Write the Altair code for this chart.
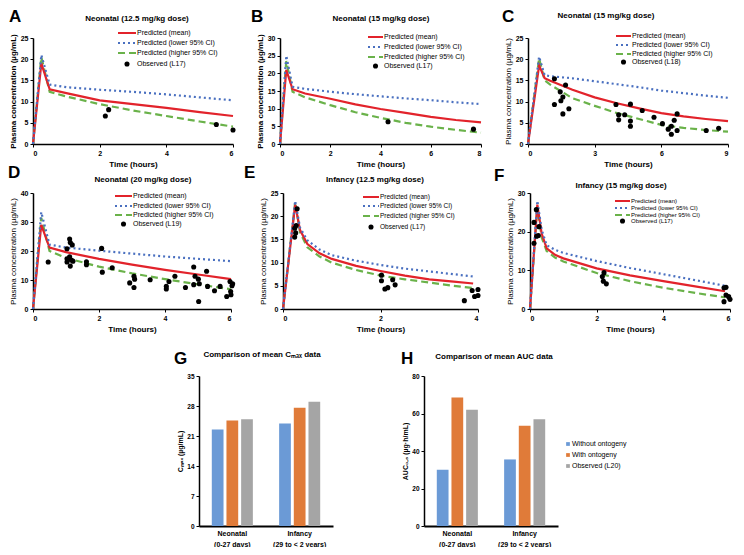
import altair as alt
import pandas as pd

FONT = "Liberation Sans"
RED = "#e2232b"
BLUE = "#4a70c0"
GREEN = "#6ab24a"

LINE_LABELS = ["Predicted (mean)", "Predicted (lower 95% CI)", "Predicted (higher 95% CI)"]

# ---------------- Panel A: Neonatal 12.5 mg/kg ----------------
A_time = [0, 0.25, 0.5, 1, 2, 3, 4, 5, 6]
A_mean = [0, 19.0, 12.9, 12.0, 10.3, 9.4, 8.5, 7.5, 6.6]
A_lower = [0, 21.0, 14.0, 13.4, 12.8, 12.3, 11.7, 11.0, 10.3]
A_higher = [0, 20.5, 12.3, 11.2, 9.4, 7.9, 6.6, 5.3, 4.1]
A_obs_time = [2.17, 2.27, 5.5, 6.0]
A_obs_conc = [6.6, 8.1, 4.6, 3.3]

# ---------------- Panel B: Neonatal 15 mg/kg (L17) ----------------
B_time = [0, 0.25, 0.5, 1, 2, 3, 4, 5, 6, 7, 8]
B_mean = [0, 21.0, 15.5, 14.3, 12.8, 11.2, 9.9, 8.8, 7.7, 6.8, 6.1]
B_lower = [0, 25.0, 16.2, 15.6, 14.8, 14.1, 13.5, 12.9, 12.4, 11.8, 11.3]
B_higher = [0, 23.5, 14.8, 13.2, 11.0, 9.0, 7.4, 6.0, 4.9, 4.0, 3.2]
B_obs_time = [4.3, 7.7]
B_obs_conc = [6.3, 4.2]

# ---------------- Panel C: Neonatal 15 mg/kg (L18) ----------------
C_time = [0, 0.5, 0.75, 1, 2, 3, 4, 5, 6, 7, 8, 9]
C_mean = [0, 18.5, 15.5, 14.9, 12.8, 11.0, 9.6, 8.4, 7.3, 6.5, 5.9, 5.4]
C_lower = [0, 20.6, 16.2, 16.0, 15.5, 14.8, 14.1, 13.4, 12.6, 12.0, 11.4, 10.9]
C_higher = [0, 20.2, 15.0, 14.0, 10.8, 9.0, 7.3, 5.9, 4.5, 3.8, 3.3, 2.9]
C_obs_time = [1.19, 1.45, 1.69, 1.57, 1.48, 1.19, 1.84, 1.57, 3.96, 4.08, 4.08, 4.35, 4.61,
              4.61, 4.61, 5.14, 5.67, 6.05, 6.31, 6.45, 6.58, 6.71, 6.71, 6.45, 8.02, 8.58]
C_obs_conc = [15.4, 12.3, 13.9, 11.1, 10.2, 9.3, 8.3, 7.1, 9.3, 6.9, 5.7, 6.9, 9.4,
              5.4, 4.2, 7.9, 6.3, 4.8, 3.5, 4.2, 5.6, 7.1, 3.2, 2.3, 3.2, 3.7]

# ---------------- Panel D: Neonatal 20 mg/kg (L19) ----------------
D_time = [0, 0.25, 0.5, 1, 2, 3, 4, 5, 6]
D_mean = [0, 29.0, 21.2, 19.6, 17.3, 15.3, 13.5, 11.9, 10.3]
D_lower = [0, 33.4, 22.2, 21.2, 20.1, 19.1, 18.1, 17.3, 16.5]
D_higher = [0, 31.5, 20.0, 17.6, 14.6, 12.3, 10.3, 8.5, 6.8]
D_obs_time = [0.46, 1.03, 1.11, 1.13, 1.19, 1.03, 1.03, 1.11, 1.16, 1.13, 1.21, 1.62, 1.62,
              2.08, 2.10, 2.40, 2.93, 3.06, 3.08, 3.06, 3.55, 4.04, 4.04, 4.12, 4.30, 4.62,
              4.87, 4.87, 4.91, 5.01, 5.04, 5.02, 5.26, 5.29, 5.50, 5.67, 5.87, 5.97, 5.99,
              6.00, 6.03, 6.05]
D_obs_conc = [16.2, 20.8, 24.1, 22.9, 22.1, 17.3, 16.2, 18.0, 16.9, 14.8, 16.5, 16.3, 15.3,
              20.9, 12.7, 14.2, 9.0, 11.3, 10.3, 7.4, 10.1, 7.8, 6.9, 9.5, 11.3, 7.4,
              14.5, 8.4, 11.3, 10.3, 8.7, 2.6, 13.0, 7.8, 6.3, 7.8, 4.3, 9.5, 6.0,
              4.9, 8.0, 8.7]

# ---------------- Panel E: Infancy 12.5 mg/kg ----------------
E_time = [0, 0.25, 0.35, 0.5, 0.75, 1, 1.5, 2, 2.5, 3, 3.5, 3.9]
E_mean = [0, 22.5, 17.0, 14.0, 12.0, 10.8, 9.3, 8.2, 7.2, 6.4, 5.9, 5.5]
E_lower = [0, 23.3, 17.5, 14.8, 12.8, 11.6, 10.4, 9.5, 8.7, 8.1, 7.5, 7.0]
E_higher = [0, 23.0, 16.5, 13.3, 11.3, 10.0, 8.4, 7.2, 6.4, 5.7, 5.0, 4.5]
E_obs_time = [0.29, 0.27, 0.24, 0.26, 0.24, 2.02, 2.02, 2.09, 2.15, 2.25, 2.30,
              3.72, 3.88, 3.93, 4.0, 4.0]
E_obs_conc = [21.6, 18.0, 17.4, 16.4, 15.5, 7.3, 6.1, 4.3, 4.6, 6.3, 5.2,
              1.8, 4.0, 2.7, 4.2, 2.9]

# ---------------- Panel F: Infancy 15 mg/kg ----------------
F_time = [0, 0.22, 0.35, 0.5, 0.75, 1, 2, 3, 4, 5, 5.85]
F_mean = [0, 27.0, 19.5, 15.7, 14.0, 13.1, 10.5, 8.7, 7.2, 5.8, 4.6]
F_lower = [0, 28.0, 20.5, 16.5, 15.3, 14.5, 12.4, 10.6, 9.0, 7.4, 6.0]
F_higher = [0, 26.5, 18.5, 15.0, 13.3, 12.3, 9.3, 7.2, 5.5, 4.1, 3.0]
F_obs_time = [0.12, 0.12, 0.19, 0.20, 0.25, 0.27, 2.22, 2.17, 2.20, 2.29,
              5.82, 5.88, 5.82, 5.88, 5.96, 6.0]
F_obs_conc = [17.0, 22.4, 25.7, 18.8, 19.0, 21.3, 9.4, 8.4, 7.2, 6.5,
              5.5, 5.6, 1.9, 3.6, 3.2, 2.5]

# ---------------- Panels G / H: bar comparisons ----------------
GROUPS = ["Neonatal (0-27 days)", "Infancy (29 to < 2 years)"]
BAR_SERIES = ["Without ontogeny", "With ontogeny", "Observed (L20)"]
BAR_COLORS = ["#6b9ad6", "#e07b39", "#a5a5a5"]
G_without = [22.5, 23.9]
G_with = [24.6, 27.6]
G_observed = [24.9, 29.0]
H_without = [30.0, 35.5]
H_with = [68.5, 53.5]
H_observed = [62.0, 57.0]


def dummy():
    return pd.DataFrame({"k": [0]})


def text_mark(txt, x, y, size, weight="normal", align="left", baseline="alphabetic"):
    return alt.Chart(dummy()).mark_text(
        text=txt, font=FONT, fontSize=size, fontWeight=weight, align=align,
        baseline=baseline, color="black"
    ).encode(x=alt.value(x), y=alt.value(y))


def line_panel(time, mean, lower, higher, obs_t, obs_c, x_ticks, y_ticks, w, h,
               title, tx, ty, letter, lx, ly, leg_x0, leg_x1, leg_tx, rows, leg_fs,
               obs_label, ytw="normal"):
    xs = alt.Scale(domain=[x_ticks[0], x_ticks[-1]], nice=False, zero=True)
    ys = alt.Scale(domain=[y_ticks[0], y_ticks[-1]], nice=False)
    xax = alt.Axis(values=x_ticks, title="Time (hours)", format="d")
    yax = alt.Axis(values=y_ticks, title="Plasma concentration (\u00b5g/mL)", titleFontWeight=ytw, format="d")
    layers = []
    specs = [(higher, GREEN, [7, 4]), (mean, RED, None), (lower, BLUE, [2, 3])]
    for vals, col, dash in specs:
        df = pd.DataFrame({"t": time, "c": vals})
        mk = dict(color=col, strokeWidth=2.2)
        if dash:
            mk["strokeDash"] = dash
        layers.append(alt.Chart(df).mark_line(**mk).encode(
            x=alt.X("t:Q", scale=xs, axis=xax), y=alt.Y("c:Q", scale=ys, axis=yax)))
    obs = pd.DataFrame({"t": obs_t, "c": obs_c})
    layers.append(alt.Chart(obs).mark_circle(size=26, color="black", opacity=1).encode(
        x=alt.X("t:Q", scale=xs, axis=xax), y=alt.Y("c:Q", scale=ys, axis=yax)))
    # in-plot legend
    leg_specs = [(RED, None), (BLUE, [2, 3]), (GREEN, [7, 4])]
    for i, (col, dash) in enumerate(leg_specs):
        mk = dict(color=col, strokeWidth=2)
        if dash:
            mk["strokeDash"] = dash
        layers.append(alt.Chart(dummy()).mark_rule(**mk).encode(
            x=alt.value(leg_x0), x2=alt.value(leg_x1), y=alt.value(rows[i])))
        layers.append(text_mark(LINE_LABELS[i], leg_tx, rows[i], leg_fs, baseline="middle"))
    layers.append(alt.Chart(dummy()).mark_circle(size=26, color="black", opacity=1).encode(
        x=alt.value((leg_x0 + leg_x1) / 2), y=alt.value(rows[3])))
    layers.append(text_mark(obs_label, leg_tx, rows[3], leg_fs, baseline="middle"))
    layers.append(text_mark(title, tx, ty, 8, "bold", "center"))
    layers.append(text_mark(letter, lx, ly, 17, "bold"))
    return alt.layer(*layers).properties(width=w, height=h)


def bar_panel(v_without, v_with, v_obs, y_ticks, w, h, title, tx, ty, letter, lx, ly,
              ytitle, legend_rows=None, legend_x=0):
    df = pd.DataFrame({
        "group": GROUPS * 3,
        "series": [s for s in BAR_SERIES for _ in GROUPS],
        "v": v_without + v_with + v_obs,
    })
    label_expr = "[split(datum.label, ' (')[0], '(' + split(datum.label, ' (')[1]]"
    bars = alt.Chart(df).mark_bar().encode(
        x=alt.X("group:N", sort=GROUPS,
                scale=alt.Scale(paddingInner=0.39, paddingOuter=0.19),
                axis=alt.Axis(title=None, ticks=False, domainWidth=2, labelAngle=0,
                              labelExpr=label_expr, labelLineHeight=11, labelFontSize=7,
                              labelPadding=3)),
        xOffset=alt.XOffset("series:N", sort=BAR_SERIES,
                            scale=alt.Scale(paddingInner=0.2, paddingOuter=0)),
        y=alt.Y("v:Q", scale=alt.Scale(domain=[y_ticks[0], y_ticks[-1]], nice=False),
                axis=alt.Axis(values=y_ticks, title=ytitle, labelFontSize=6.5, titleFontSize=7)),
        color=alt.Color("series:N", scale=alt.Scale(domain=BAR_SERIES, range=BAR_COLORS), legend=None),
    )
    layers = [bars, text_mark(title, tx, ty, 8, "bold", "center"), text_mark(letter, lx, ly, 17, "bold")]
    if legend_rows:
        for i, s in enumerate(BAR_SERIES):
            layers.append(alt.Chart(dummy()).mark_square(size=14, color=BAR_COLORS[i], opacity=1).encode(
                x=alt.value(legend_x), y=alt.value(legend_rows[i])))
            layers.append(text_mark(s, legend_x + 4, legend_rows[i], 7, baseline="middle"))
    return alt.layer(*layers).properties(width=w, height=h)


A = line_panel(A_time, A_mean, A_lower, A_higher, A_obs_time, A_obs_conc,
               [0, 2, 4, 6], [0, 5, 10, 15, 20, 25], 200, 106,
               "Neonatal (12.5 mg/kg dose)", 104, -17, "A", -24, -16,
               85, 103, 104, [-5, 5, 15, 26], 7, "Observed (L17)", "bold")
B = line_panel(B_time, B_mean, B_lower, B_higher, B_obs_time, B_obs_conc,
               [0, 2, 4, 6, 8], [0, 5, 10, 15, 20, 25, 30], 201, 106,
               "Neonatal (15 mg/kg dose)", 101, -17, "B", -29, -16,
               88, 103, 104, [-1, 9, 19, 28], 7, "Observed (L17)", "bold")
C = line_panel(C_time, C_mean, C_lower, C_higher, C_obs_time, C_obs_conc,
               [0, 3, 6, 9], [0, 5, 10, 15, 20, 25], 200, 106,
               "Neonatal (15 mg/kg dose)", 78, -20, "C", -26, -16,
               88, 103, 104, [-2, 7, 16, 24], 7, "Observed (L18)")
D = line_panel(D_time, D_mean, D_lower, D_higher, D_obs_time, D_obs_conc,
               [0, 2, 4, 6], [0, 10, 20, 30, 40], 198, 116,
               "Neonatal (20 mg/kg dose)", 110, -11, "D", -25, -15,
               82, 99, 100, [3, 13, 22, 31], 7, "Observed (L19)")
E = line_panel(E_time, E_mean, E_lower, E_higher, E_obs_time, E_obs_conc,
               [0, 2, 4], [0, 5, 10, 15, 20, 25], 195, 116,
               "Infancy (12.5 mg/kg dose)", 92, -11, "E", -39, -15,
               80, 96, 97, [4, 13, 23, 34], 6.5, "Observed (L17)")
F = line_panel(F_time, F_mean, F_lower, F_higher, F_obs_time, F_obs_conc,
               [0, 2, 4, 6], [0, 10, 20, 30], 200, 116,
               "Infancy (15 mg/kg dose)", 91, -5, "F", -36, -12,
               85, 100, 101, [8, 15, 22, 28], 6, "Observed (L17)")
G = bar_panel(G_without, G_with, G_observed, [0, 7, 14, 21, 28, 35], 134, 150,
              "Comparison of mean C\u2098\u2090\u2093 data", 63, -19, "G", -25, -12,
              "C\u2098\u2090\u2093 (\u00b5g/mL)")
H = bar_panel(H_without, H_with, H_observed, [0, 20, 40, 60, 80], 134, 150,
              "Comparison of mean AUC data", 70, -17, "H", -23, -12,
              "AUC\u2080\u208b\u2086 (\u00b5g\u00b7h/mL)", legend_rows=[68, 79, 90], legend_x=144)

spacer = alt.Chart(dummy()).mark_point(opacity=0).encode(
    x=alt.value(0), y=alt.value(0)).properties(width=75, height=10)

row1 = alt.hconcat(A, B, C, spacing=47, bounds="flush")
row2 = alt.hconcat(D, E, F, spacing=52, bounds="flush")
row3 = alt.hconcat(spacer, G, H, spacing=91, bounds="flush")
top = alt.vconcat(row1, row2, spacing=-4)

chart = alt.vconcat(top, row3, spacing=17).properties(
    padding=0
).configure_view(stroke=None).configure_axis(
    domainColor="black", domainWidth=1.5, tickColor="black", tickWidth=1, tickSize=3,
    labelFont=FONT, labelFontSize=7, labelFontWeight="bold", labelColor="black",
    labelPadding=2, titleFont=FONT, titleFontSize=8, titleColor="black", grid=False
).configure_axisX(titleFontWeight="bold", titlePadding=4).configure_axisY(titlePadding=3)

chart.save("out.html", embed_options={"renderer": "svg", "actions": False})
